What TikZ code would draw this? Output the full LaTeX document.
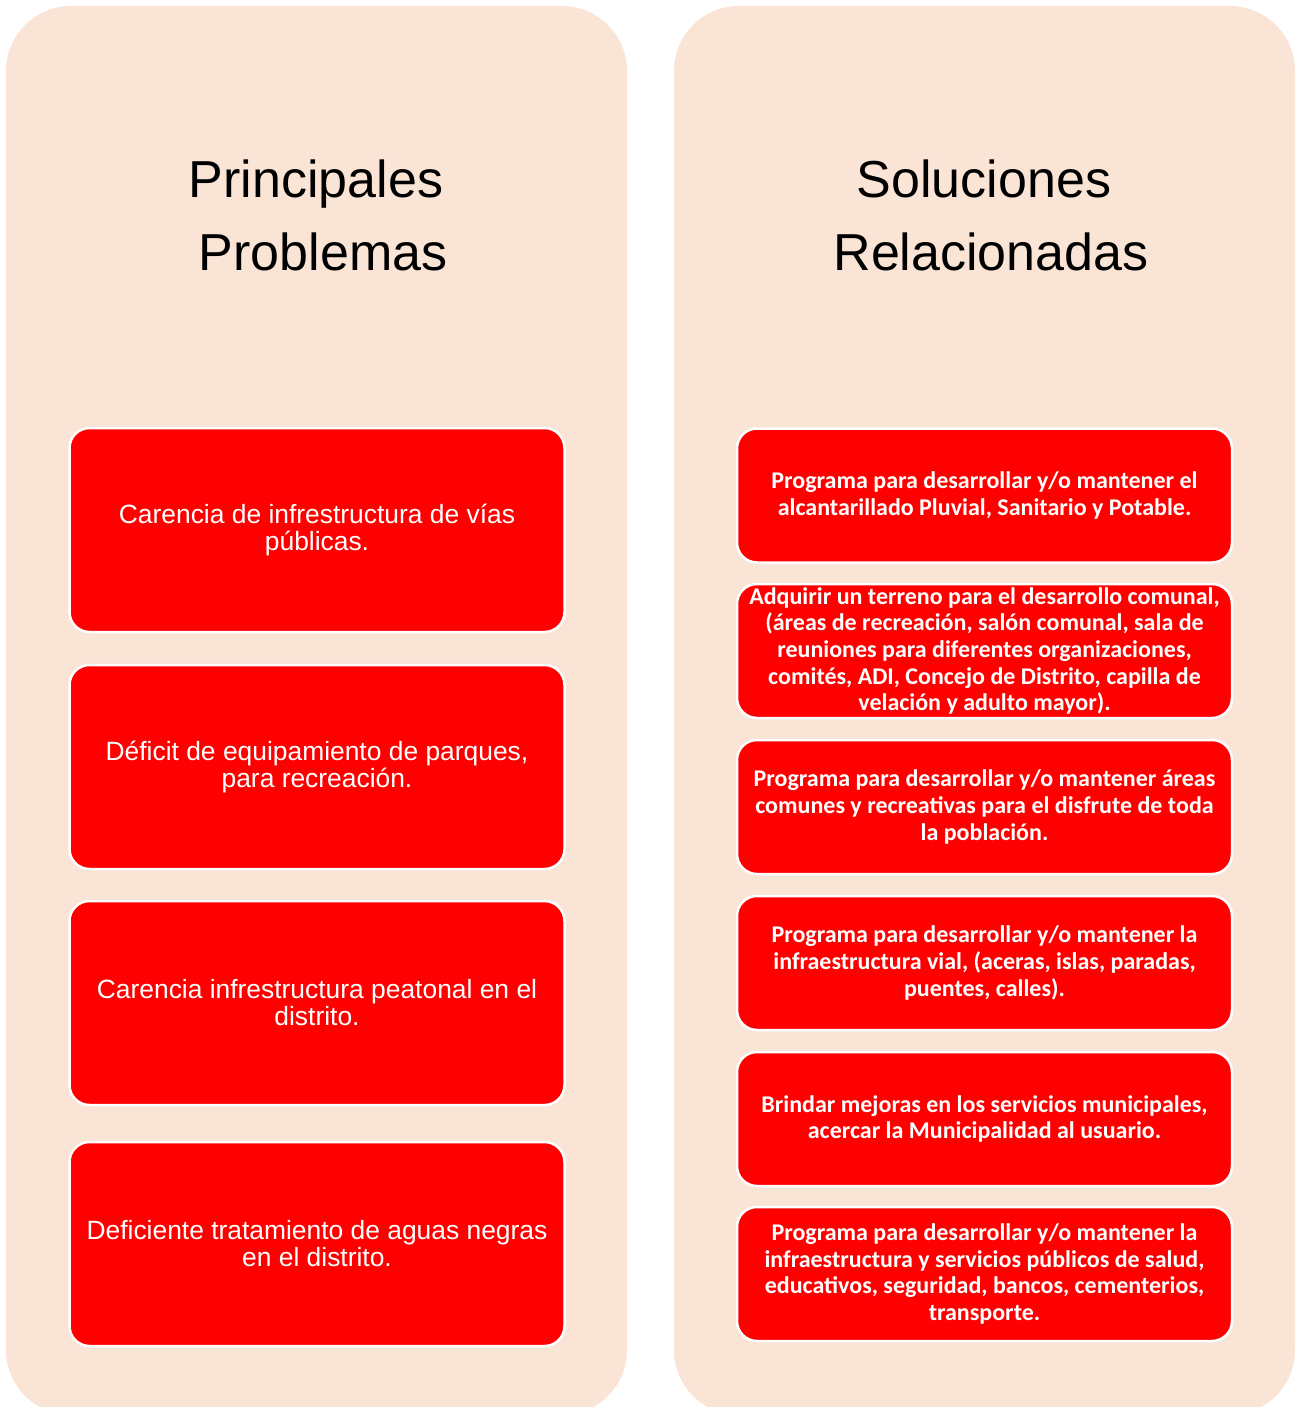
\documentclass[tikz,border=0pt]{standalone}
\usepackage{fontspec}
\setmainfont{Liberation Sans}
\newfontfamily\carlitofam{Carlito}
\definecolor{panelpeach}{RGB}{250,228,214}
\definecolor{boxred}{RGB}{255,0,0}
\begin{document}
\begin{tikzpicture}[x=1pt,y=-1pt,
  panelbox/.style={fill=panelpeach, rounded corners=65pt},
  header/.style={font=\fontsize{52}{60}\selectfont, anchor=base, inner sep=0pt},
  probbox/.style={draw=white, line width=2.5pt, fill=boxred, rounded corners=20pt,
    minimum width=495pt, minimum height=204pt, text=white, align=center, inner sep=0pt,
    font=\fontsize{26.4}{27}\selectfont},
  solbox/.style={draw=white, line width=2.5pt, fill=boxred, rounded corners=20pt,
    minimum width=495pt, minimum height=134pt, text=white, align=center, inner sep=0pt,
    font=\carlitofam\bfseries\fontsize{24}{26.6}\selectfont}]
\useasboundingbox (0,0) rectangle (1301,1407);
\clip (0,0) rectangle (1301,1407);
\fill[panelbox] (6,6) rectangle (627,1415);
\fill[panelbox] (674,6) rectangle (1295,1415);

\node[header] (h1a) at (316,197) {Principales};
\node[header] (h1b) at (323,270) {Problemas};
\node[header] (h2a) at (984,197) {Soluciones};
\node[header] (h2b) at (991,270) {Relacionadas};

\node[probbox] (p1) at (317,530) {Carencia de infrestructura de vías\\públicas.};
\node[probbox] (p2) at (317,767) {Déficit de equipamiento de parques,\\para recreación.};
\node[probbox] (p3) at (317,1003) {Carencia infrestructura peatonal en el\\distrito.};
\node[probbox] (p4) at (317,1244) {Deficiente tratamiento de aguas negras\\en el distrito.};

\node[solbox] (s1) at (984.5,495.5) {Programa para desarrollar y/o mantener el\\alcantarillado Pluvial, Sanitario y Potable.};
\node[solbox] (s2) at (984.5,651) {Adquirir un terreno para el desarrollo comunal,\\(áreas de recreación, salón comunal, sala de\\reuniones para diferentes organizaciones,\\comités, ADI, Concejo de Distrito, capilla de\\velación y adulto mayor).};
\node[solbox] (s3) at (984.5,807) {Programa para desarrollar y/o mantener áreas\\comunes y recreativas para el disfrute de toda\\la población.};
\node[solbox] (s4) at (984.5,963) {Programa para desarrollar y/o mantener la\\infraestructura vial, (aceras, islas, paradas,\\puentes, calles).};
\node[solbox] (s5) at (984.5,1119) {Brindar mejoras en los servicios municipales,\\acercar la Municipalidad al usuario.};
\node[solbox] (s6) at (984.5,1274) {Programa para desarrollar y/o mantener la\\infraestructura y servicios públicos de salud,\\educativos, seguridad, bancos, cementerios,\\transporte.};
\end{tikzpicture}
\end{document}
